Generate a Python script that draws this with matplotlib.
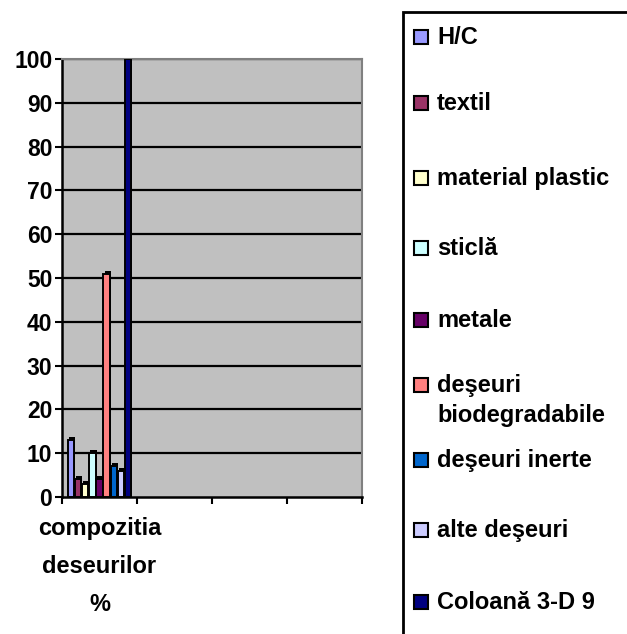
import matplotlib.pyplot as plt
from matplotlib.patches import Rectangle

plt.rcParams['font.family'] = ['Liberation Sans', 'DejaVu Sans']
plt.rcParams['font.weight'] = 'bold'

# data
series = ['H/C', 'textil', 'material plastic', 'sticlă', 'metale',
          'deşeuri\nbiodegradabile', 'deşeuri inerte', 'alte deşeuri', 'Coloană 3-D 9']
values = [13, 4, 3, 10, 4, 51, 7, 6, 100]
colors = ['#9999FF', '#993366', '#FFFFCC', '#CCFFFF', '#660066',
          '#FF8080', '#0066CC', '#CCCCFF', '#000080']
category = 'compozitia\ndeseurilor\n%'
yticks = list(range(0, 101, 10))

W, H = 627, 634
fig = plt.figure(figsize=(W / 100, H / 100), dpi=100)

def fx(px):
    return px / W

def fy(py):
    return 1 - py / H

ax = fig.add_axes([fx(62), fy(497), fx(362) - fx(62), fy(59) - fy(497)])
ax.set_facecolor('#C0C0C0')
ax.set_xlim(0, 4)
ax.set_ylim(0, 100)

for y in yticks[1:]:
    ax.axhline(y, color='black', linewidth=1.6, zorder=1)

stride = 0.094
bw = 0.082
for i, (v, c) in enumerate(zip(values, colors)):
    x = 0.5 + (i - 4) * stride
    # dark depth side of the 3-D column
    ax.bar(x + 0.014, v + 0.7, width=bw, color='black', zorder=2)
    ax.bar(x, v, width=bw, color=c, edgecolor='black', linewidth=1.4, zorder=3)

ax.set_yticks(yticks)
ax.set_yticklabels([str(t) for t in yticks], fontsize=16.5, fontweight='bold')
ax.set_xticks([0, 1, 2, 3, 4])
ax.set_xticklabels([])
ax.tick_params(axis='both', direction='out', length=5, width=1.5, colors='black')
ax.tick_params(axis='y', pad=2)
ax.text(0.5, -4.5, category, ha='center', va='top', fontsize=17,
        fontweight='bold', linespacing=1.85)

for s in ['top', 'right']:
    ax.spines[s].set_color('#808080')
    ax.spines[s].set_linewidth(1.5)
for s in ['left', 'bottom']:
    ax.spines[s].set_color('black')
    ax.spines[s].set_linewidth(1.8)

# legend box, cut off by the right and bottom edges
fig.patches.append(Rectangle((fx(403), fy(660)), fx(700) - fx(403), fy(12) - fy(660),
                             transform=fig.transFigure, facecolor='none',
                             edgecolor='black', linewidth=2))
entry_y = [37, 103, 178, 248, 320, 385, 460, 530, 602]
for name, c, py in zip(series, colors, entry_y):
    fig.patches.append(Rectangle((fx(414), fy(py + 7)), fx(14), 14 / H,
                                 transform=fig.transFigure, facecolor=c,
                                 edgecolor='black', linewidth=1.5))
    fig.text(fx(437), fy(py - 11), name, ha='left', va='top', fontsize=17,
             fontweight='bold', linespacing=1.4)

fig.savefig('out.png', dpi=100)
